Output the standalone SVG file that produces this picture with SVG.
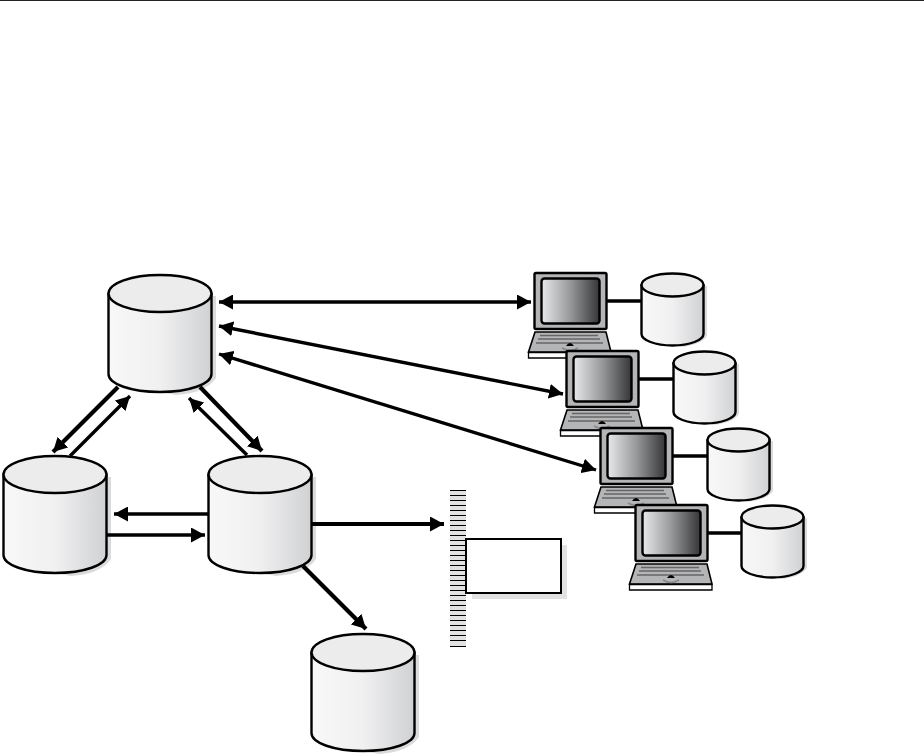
<svg xmlns="http://www.w3.org/2000/svg" width="924" height="755" viewBox="0 0 924 755">
<style>
.o{stroke:#000;stroke-width:2.4;stroke-linejoin:round}
.c{stroke:#000;stroke-width:4.2;fill:none}
.t{stroke:#000;stroke-width:3.4;fill:none}
.s{fill:#000;opacity:.14}
</style>
<defs>
<linearGradient id="cyl"><stop offset="0" stop-color="#f8f8f8"/><stop offset=".5" stop-color="#f0f0f1"/><stop offset="1" stop-color="#d0d1d3"/></linearGradient>
<linearGradient id="scr"><stop offset="0" stop-color="#e8e9ea"/><stop offset=".5" stop-color="#97989a"/><stop offset="1" stop-color="#353537"/></linearGradient>
<marker id="a" viewBox="0 0 14 15" refX="14" refY="7.500" markerWidth="14" markerHeight="15" markerUnits="userSpaceOnUse" orient="auto-start-reverse"><path d="M0 0L14 7.500L0 15Z"/></marker>
<g id="big">
<path class="s" d="M212 296h4v82q-10 15-40 17l-10-2q36-3 46-15Z"/>
<path d="M108.500 293.500V374C108.500 384 131 392 160 392S211.500 384 211.500 374V293.500Z" fill="url(#cyl)" class="o"/>
<ellipse cx="160" cy="293.500" rx="51.500" ry="18.500" fill="#ececed" class="o"/>
</g>
<g id="small">
<path class="s" d="M704 286h3v50q-6 9-26 11l-6-2q24-1 29-10Z"/>
<path d="M641.500 285V334C641.500 340 655 345.500 672.500 345.500S703.500 340 703.500 334V285Z" fill="url(#cyl)" class="o"/>
<ellipse cx="672.500" cy="285" rx="31" ry="11.500" fill="#ececed" class="o"/>
</g>
<g id="pc">
<path d="M535 332H606L611 352H528.500Z" fill="#b4b5b7" stroke="#000" stroke-width="1.600"/>
<path d="M528.500 352.500H611V358H528.500Z" fill="#fff" stroke="#000" stroke-width="1.300"/>
<path d="M540 335.500H598M538 339H600M536 343H603" stroke="#666" stroke-width="1.500"/>
<path d="M562 348q8 5 16 0" stroke="#888" stroke-width="1.500" fill="none"/>
<path d="M566 346q4-6 8 0Z" fill="#000"/>
<rect x="534.500" y="273" width="72" height="56" rx="1.500" fill="#b4b5b7" class="o"/>
<rect x="541.500" y="278.500" width="58" height="45" rx="3" fill="url(#scr)" class="o"/>
</g>
</defs>
<path d="M0 .5H924" stroke="#222" stroke-width="1"/>
<g id="connectors">
<path class="t" d="M219 302H531" marker-start="url(#a)" marker-end="url(#a)"/>
<path class="t" d="M219 326L563 394" marker-start="url(#a)" marker-end="url(#a)"/>
<path class="t" d="M219 354L596 470" marker-start="url(#a)" marker-end="url(#a)"/>
<path class="c" d="M118 387L53 452" marker-end="url(#a)"/>
<path class="t" d="M70 456L130 396" marker-end="url(#a)"/>
<path class="t" d="M247 455L189 398" marker-end="url(#a)"/>
<path class="c" d="M200 387L262 451" marker-end="url(#a)"/>
<path class="t" d="M208 514H114" marker-end="url(#a)"/>
<path class="t" d="M107 535H205" marker-end="url(#a)"/>
<path class="c" d="M311 524H444" marker-end="url(#a)"/>
<path class="c" d="M303 566L366 629" marker-end="url(#a)"/>
<path class="t" d="M606 301H641M638 379H673M672 456H707M707 533H741"/>
</g>
<g id="node-primary"><use href="#big"/></g>
<g id="node-left"><use href="#big" x="-105" y="181"/></g>
<g id="node-middle"><use href="#big" x="100" y="181"/></g>
<g id="node-bottom"><use href="#big" x="203" y="359"/></g>
<g id="node-client-1"><use href="#pc"/><use href="#small"/></g>
<g id="node-client-2"><use href="#pc" x="32" y="78"/><use href="#small" x="32" y="78"/></g>
<g id="node-client-3"><use href="#pc" x="66" y="155"/><use href="#small" x="66" y="155"/></g>
<g id="node-client-4"><use href="#pc" x="101" y="232"/><use href="#small" x="100" y="232"/></g>
<g id="node-queue">
<rect x="450" y="490" width="16" height="157" fill="#e2e2e2"/>
<path stroke="#000" stroke-width="1" d="M450 490.500h16M450 495.500h16M450 500.500h16M450 505.500h16M450 510.500h16M450 515.500h16M450 520.500h16M450 525.500h16M450 530.500h16M450 535.500h16M450 540.500h16M450 545.500h16M450 550.500h16M450 555.500h16M450 560.500h16M450 565.500h16M450 570.500h16M450 575.500h16M450 580.500h16M450 585.500h16M450 590.500h16M450 595.500h16M450 600.500h16M450 605.500h16M450 610.500h16M450 615.500h16M450 620.500h16M450 625.500h16M450 630.500h16M450 635.500h16M450 640.500h16M450 646.500h16"/>
<rect x="472" y="545" width="95" height="54" fill="#e2e2e2"/>
<rect x="466" y="539" width="95" height="54" fill="#fff" stroke="#000" stroke-width="2"/>
</g>
</svg>
